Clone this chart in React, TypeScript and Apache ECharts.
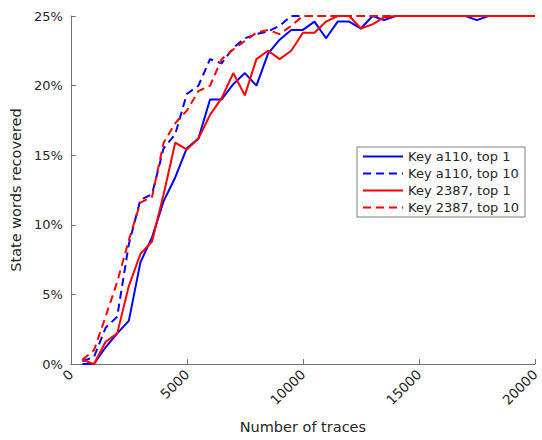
import React, { useEffect, useRef } from "react";
import * as echarts from "echarts";

// Number of traces at each measurement point
const traces = [
  500, 1000, 1500, 2000, 2500, 3000, 3500, 4000, 4500, 5000,
  5500, 6000, 6500, 7000, 7500, 8000, 8500, 9000, 9500, 10000,
  10500, 11000, 11500, 12000, 12500, 13000, 13500, 14000, 14500, 15000,
  15500, 16000, 16500, 17000, 17500, 18000, 18500, 19000, 19500, 20000,
];

// Share of state words recovered (%)
const a110Top1 = [
  0, 0, 1.2, 2.2, 3.1, 7.3, 9.1, 11.7, 13.4, 15.5,
  16.2, 19.0, 19.0, 20.1, 20.9, 20.0, 22.3, 23.3, 24.0, 24.0,
  24.6, 23.4, 24.6, 24.6, 24.1, 25, 24.7, 25, 25, 25,
  25, 25, 25, 25, 24.7, 25, 25, 25, 25, 25,
];
const a110Top10 = [
  0.2, 0.5, 2.6, 3.4, 8.6, 11.8, 12.2, 15.5, 16.5, 19.4,
  20.0, 21.9, 21.6, 22.7, 23.4, 23.7, 23.9, 24.3, 25, 25,
  25, 25, 25, 25, 25, 25, 25, 25, 25, 25,
  25, 25, 25, 25, 25, 25, 25, 25, 25, 25,
];
const k2387Top1 = [
  0.3, 0, 1.6, 2.2, 5.6, 7.9, 8.8, 12.2, 15.9, 15.4,
  16.2, 17.9, 19.1, 20.9, 19.3, 21.9, 22.5, 21.9, 22.5, 23.8,
  23.8, 24.6, 25, 25, 24.1, 24.4, 24.9, 25, 25, 25,
  25, 25, 25, 25, 25, 25, 25, 25, 25, 25,
];
const k2387Top10 = [
  0.3, 1.0, 3.4, 5.9, 8.9, 11.6, 12.0, 15.9, 17.3, 18.2,
  19.6, 20.0, 21.9, 22.6, 23.2, 23.8, 24.0, 23.7, 24.3, 25,
  25, 25, 25, 25, 25, 25, 25, 25, 25, 25,
  25, 25, 25, 25, 25, 25, 25, 25, 25, 25,
];

const seriesNames = [
  "Key a110, top 1",
  "Key a110, top 10",
  "Key 2387, top 1",
  "Key 2387, top 10",
];

const FONT = "DejaVu Sans";
const TEXT = "#262626";
const AXIS = "#707070";

function pairs(values: number[]) {
  return traces.map((t, i) => [t, values[i]]);
}

function lineSeries(name: string, values: number[], color: string, dashed: boolean) {
  return {
    name,
    type: "line",
    data: pairs(values),
    showSymbol: false,
    symbol: "none",
    lineStyle: { color, width: 2, type: dashed ? [8, 5] : "solid" },
    itemStyle: { color },
  };
}

export default function App() {
  const ref = useRef<HTMLDivElement>(null);

  useEffect(() => {
    document.body.style.margin = "0";
    if (!ref.current) return;
    const chart = echarts.init(ref.current, undefined, { renderer: "svg" });
    chart.setOption({
      animation: false,
      backgroundColor: "#ffffff",
      grid: { left: 70, right: 5, top: 16, bottom: 76 },
      legend: {
        orient: "vertical",
        left: 357,
        top: 147,
        itemWidth: 40,
        itemHeight: 12,
        itemGap: 4,
        padding: [3, 6, 3, 5],
        borderColor: "#7f7f7f",
        borderWidth: 1,
        backgroundColor: "#ffffff",
        data: seriesNames,
        itemStyle: { opacity: 0 },
        textStyle: { fontFamily: FONT, fontSize: 13, color: TEXT, padding: [0, 0, 0, 0] },
      },
      xAxis: {
        type: "value",
        min: 0,
        max: 20000,
        interval: 5000,
        name: "Number of traces",
        nameLocation: "middle",
        nameGap: 55,
        nameTextStyle: { fontFamily: FONT, fontSize: 14.5, color: TEXT },
        axisLine: { show: true, lineStyle: { color: AXIS, width: 1 } },
        axisTick: { show: true, inside: true, length: 5, lineStyle: { color: AXIS } },
        axisLabel: {
          rotate: 45,
          margin: 8,
          fontFamily: FONT,
          fontSize: 13.5,
          color: TEXT,
          formatter: (v: number) => String(v),
        },
        splitLine: { show: false },
      },
      yAxis: {
        type: "value",
        min: 0,
        max: 25,
        interval: 5,
        name: "State words recovered",
        nameLocation: "middle",
        nameGap: 46,
        nameTextStyle: { fontFamily: FONT, fontSize: 14.5, color: TEXT },
        axisLine: { show: true, lineStyle: { color: AXIS, width: 1 } },
        axisTick: { show: true, inside: true, length: 5, lineStyle: { color: AXIS } },
        axisLabel: {
          margin: 8,
          fontFamily: FONT,
          fontSize: 13,
          color: TEXT,
          formatter: (v: number) => `${v}%`,
        },
        splitLine: { show: false },
      },
      series: [
        lineSeries(seriesNames[0], a110Top1, "#0000ff", false),
        lineSeries(seriesNames[1], a110Top10, "#0000ff", true),
        lineSeries(seriesNames[2], k2387Top1, "#ff0000", false),
        lineSeries(seriesNames[3], k2387Top10, "#ff0000", true),
      ],
    });
    return () => chart.dispose();
  }, []);

  return <div ref={ref} style={{ width: 542, height: 440 }} />;
}
